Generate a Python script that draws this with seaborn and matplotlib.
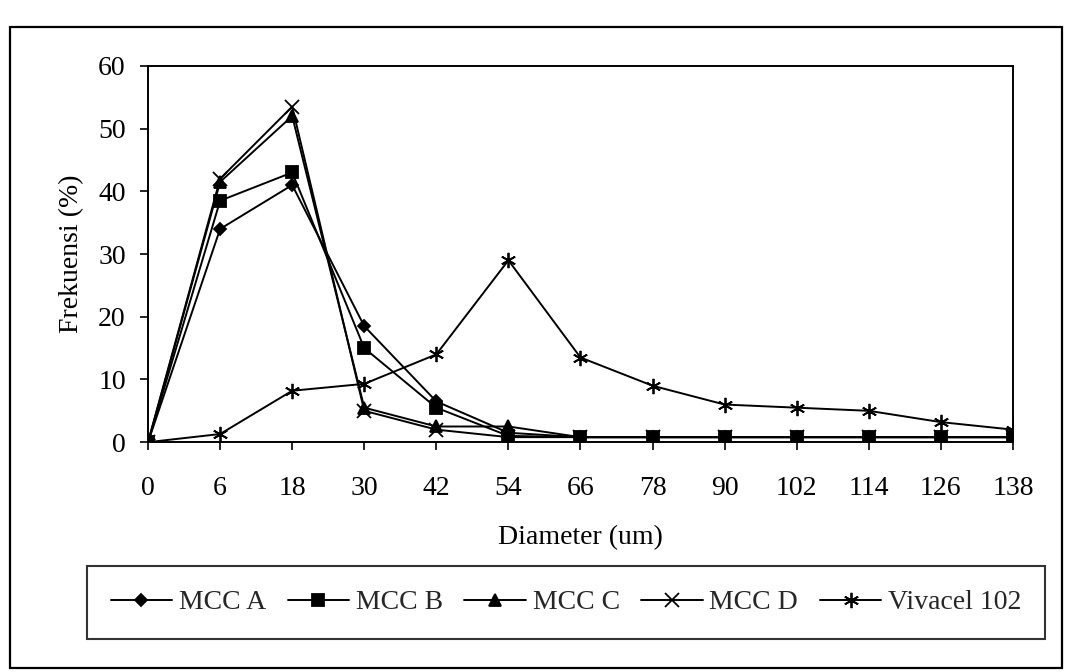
import numpy as np
import pandas as pd
import matplotlib
matplotlib.use("Agg")
import matplotlib.pyplot as plt
from matplotlib.patches import Rectangle
import seaborn as sns

categories = ["0", "6", "18", "30", "42", "54", "66", "78", "90", "102", "114", "126", "138"]
mcc_a = [0, 34, 41, 18.5, 6.5, 1.5, 0.8, 0.8, 0.8, 0.8, 0.8, 0.8, 0.8]
mcc_b = [0, 38.5, 43, 15, 5.5, 1, 0.8, 0.8, 0.8, 0.8, 0.8, 0.8, 0.8]
mcc_c = [0, 41.5, 52, 5.5, 2.5, 2.5, 0.8, 0.8, 0.8, 0.8, 0.8, 0.8, 0.8]
mcc_d = [0, 42, 53.5, 5, 2, 0.8, 0.8, 0.8, 0.8, 0.8, 0.8, 0.8, 0.8]
vivacel = [0, 1.3, 8.2, 9.3, 14, 29, 13.5, 9, 6, 5.5, 5, 3.2, 2]
series_names = ["MCC A", "MCC B", "MCC C", "MCC D", "Vivacel 102"]
yticks = [0, 10, 20, 30, 40, 50, 60]

sns.set_theme(style="white")
plt.rcParams["font.family"] = ["Liberation Serif", "DejaVu Serif"]

pos = np.arange(len(categories))
frames = []
for name, vals in zip(series_names, [mcc_a, mcc_b, mcc_c, mcc_d, vivacel]):
    frames.append(pd.DataFrame({"pos": pos, "value": vals, "series": name}))
df = pd.concat(frames, ignore_index=True)

fig = plt.figure(figsize=(10.69, 6.72), dpi=100)
ax = fig.add_axes([0.1385, 0.342, 0.809, 0.560])

markers = {"MCC A": "D", "MCC B": "s", "MCC C": "^", "MCC D": "x", "Vivacel 102": (6, 2, 0)}
sizes = {"MCC A": 6, "MCC B": 8, "MCC C": 8, "MCC D": 10, "Vivacel 102": 11}
for name in series_names:
    sub = df[df["series"] == name]
    sns.lineplot(data=sub, x="pos", y="value", ax=ax, color="black", linewidth=1.4,
                 marker=markers[name], markersize=sizes[name], markeredgewidth=1.3,
                 markeredgecolor="black", markerfacecolor="black", label=name, legend=False)

ax.set_xlim(0, len(categories) - 1)
ax.set_ylim(0, 60)
ax.set_xticks(pos)
ax.set_xticklabels(categories)
ax.set_yticks(yticks)
ax.tick_params(axis="both", direction="out", length=6, width=1.2, color="black",
               labelsize=20, labelcolor="black", left=True, bottom=True)
ax.tick_params(axis="x", pad=18)
ax.tick_params(axis="y", pad=10)
for sp in ax.spines.values():
    sp.set_visible(True)
    sp.set_color("black")
    sp.set_linewidth(1.4)
ax.grid(False)
ax.set_xlabel("Diameter (um)", fontsize=20, color="black", labelpad=18)
ax.set_ylabel("Frekuensi (%)", fontsize=20, color="black", labelpad=10)

h, l = ax.get_legend_handles_labels()
leg = fig.legend(h, l, loc="center", mode="expand",
                 bbox_to_anchor=(87 / 1069, 1 - 640 / 672, 958 / 1069, 75 / 672), ncol=5,
                 frameon=True, fancybox=False, edgecolor="black", fontsize=20,
                 handlelength=2.2, handletextpad=0.25, columnspacing=0.4,
                 borderpad=0.85, borderaxespad=0)
leg.get_frame().set_linewidth(1.5)

fig.patches.append(Rectangle((10 / 1069, 1 - 668 / 672), 1052 / 1069, 641 / 672,
                             transform=fig.transFigure, fill=False, edgecolor="black",
                             linewidth=1.6))

fig.savefig("out.png", dpi=100, facecolor="white")
